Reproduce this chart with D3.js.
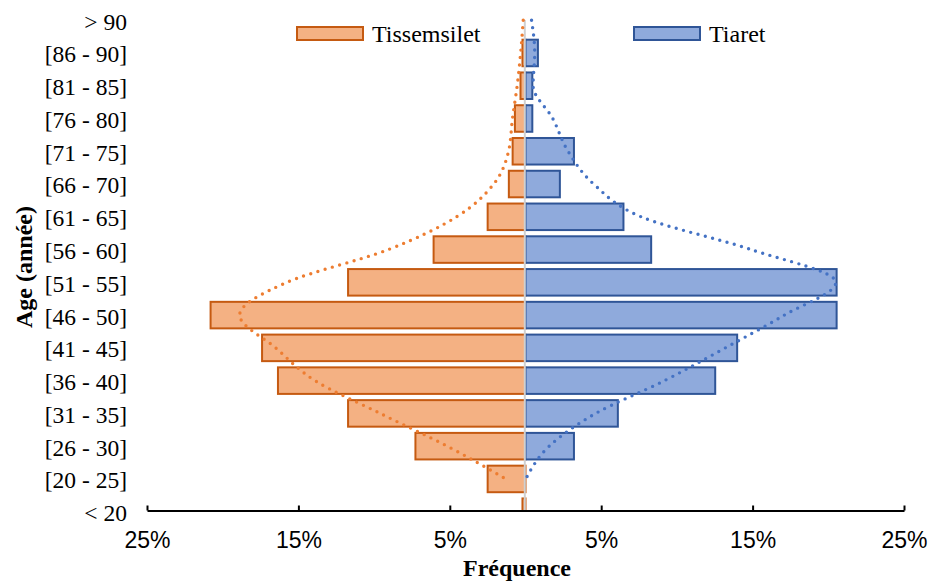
<!DOCTYPE html>
<html>
<head>
<meta charset="utf-8">
<script src="https://cdn.jsdelivr.net/npm/d3@7"></script>
<style>
  body { margin: 0; background: #fff; }
  svg { display: block; font-family: "Liberation Serif", "Times New Roman", serif; }
</style>
</head>
<body>
<div id="pyramid"></div>
<script>
  // age classes, top to bottom
  const ages = ["> 90", "[86 - 90]", "[81 - 85]", "[76 - 80]", "[71 - 75]", "[66 - 70]", "[61 - 65]", "[56 - 60]",
    "[51 - 55]", "[46 - 50]", "[41 - 45]", "[36 - 40]", "[31 - 35]", "[26 - 30]", "[20 - 25]", "< 20"]

  // frequencies in %
  const tissemsilet = [0, 0.2, 0.33, 0.7, 0.85, 1.1, 2.5, 6.07, 11.72, 20.8, 17.4, 16.35, 11.72, 7.27, 2.5, 0.2]
  const tiaret = [0, 0.82, 0.45, 0.45, 3.2, 2.27, 6.47, 8.3, 20.55, 20.55, 13.98, 12.53, 6.1, 3.2, 0, 0]

  // polynomial trend lines (> 90 down to [20 - 25])
  const tissemsiletTrend = [0.15, 0.32, 0.55, 0.86, 1.12, 2.1, 4.55, 9.06, 15.75, 18.88, 16.5, 13.9, 9.6, 5.17, 1.3]
  const tiaretTrend = [0.4, 0.61, 0.5, 1.8, 2.81, 4.5, 7.64, 14.9, 20.5, 17.1, 13.2, 9.18, 4.64, 1.57, 0.02]

  const xTicks = [-25, -15, -5, 5, 15, 25]
  const seriesNames = ["Tissemsilet", "Tiaret"]

  const width = 928
  const height = 585
  const axisY = 510.5

  const svg = d3.select("#pyramid")
    .append("svg")
    .attr("width", width)
    .attr("height", height)

  const x = d3.scaleLinear()
    .domain([-25, 25])
    .range([147, 904])

  const y = d3.scaleBand()
    .domain(ages)
    .range([0.7, 531.2])
    .padding(0.19)

  const yc = d => y(d) + y.bandwidth() / 2

  svg.append("clipPath")
      .attr("id", "plot-clip")
    .append("rect")
      .attr("x", 0)
      .attr("y", 0)
      .attr("width", width)
      .attr("height", axisY + 1)

  const bars = svg.append("g").attr("clip-path", "url(#plot-clip)")

  bars.selectAll("rect.left")
    .data(ages)
    .join("rect")
      .attr("class", "left")
      .attr("x", (d, i) => x(-tissemsilet[i]))
      .attr("y", d => y(d))
      .attr("width", (d, i) => x(0) - x(-tissemsilet[i]))
      .attr("height", y.bandwidth())
      .attr("fill", "#F4B183")
      .attr("stroke", "#C55A11")
      .attr("stroke-width", 2)
      .attr("display", (d, i) => tissemsilet[i] > 0 ? null : "none")

  bars.selectAll("rect.right")
    .data(ages)
    .join("rect")
      .attr("class", "right")
      .attr("x", x(0))
      .attr("y", d => y(d))
      .attr("width", (d, i) => x(tiaret[i]) - x(0))
      .attr("height", y.bandwidth())
      .attr("fill", "#8FAADC")
      .attr("stroke", "#2F5597")
      .attr("stroke-width", 2)
      .attr("display", (d, i) => tiaret[i] > 0 ? null : "none")

  // vertical category axis at zero
  svg.append("line")
    .attr("x1", x(0) - 0.7)
    .attr("x2", x(0) - 0.7)
    .attr("y1", 20)
    .attr("y2", axisY)
    .attr("stroke", "#d0d0d0")
    .attr("stroke-width", 2)

  // dotted trend lines
  const trend = d3.line()
    .x(d => x(d.v))
    .y(d => yc(d.age))
    .curve(d3.curveMonotoneY)

  svg.append("path")
    .attr("d", trend(tissemsiletTrend.map((v, i) => ({ age: ages[i], v: -v }))))
    .attr("fill", "none")
    .attr("stroke", "#ED7D31")
    .attr("stroke-width", 3.4)
    .attr("stroke-linecap", "round")
    .attr("stroke-dasharray", "0 7.5")

  svg.append("path")
    .attr("d", trend(tiaretTrend.map((v, i) => ({ age: ages[i], v: v }))))
    .attr("fill", "none")
    .attr("stroke", "#4472C4")
    .attr("stroke-width", 3.4)
    .attr("stroke-linecap", "round")
    .attr("stroke-dasharray", "0 7.5")

  // category labels
  svg.append("g")
      .attr("font-size", 23.5)
      .attr("text-anchor", "end")
    .selectAll("text")
    .data(ages)
    .join("text")
      .attr("x", 127)
      .attr("y", d => yc(d))
      .attr("dy", "0.4em")
      .text(d => d)

  // value axis
  const xAxis = svg.append("g")
    .attr("transform", `translate(0,${axisY})`)
    .call(d3.axisBottom(x)
      .tickValues(xTicks)
      .tickSizeInner(-5)
      .tickSizeOuter(0)
      .tickPadding(21)
      .tickFormat(d => Math.abs(d) + "%"))

  xAxis.select(".domain").attr("stroke", "#000").attr("stroke-width", 2)
  xAxis.selectAll(".tick line").attr("stroke", "#000").attr("stroke-width", 2)
  xAxis.selectAll(".tick text")
    .attr("font-family", null)
    .attr("font-size", 23)
    .attr("fill", "#000")

  svg.append("text")
    .attr("x", 517)
    .attr("y", 576)
    .attr("text-anchor", "middle")
    .attr("font-size", 24)
    .attr("font-weight", "bold")
    .text("Fréquence")

  svg.append("text")
    .attr("transform", "translate(32,267) rotate(-90)")
    .attr("text-anchor", "middle")
    .attr("font-size", 24)
    .attr("font-weight", "bold")
    .text("Age (année)")

  // legend
  const legend = svg.append("g")
    .selectAll("g")
    .data(seriesNames)
    .join("g")
      .attr("transform", (d, i) => `translate(${[297, 634][i]},27)`)

  legend.append("rect")
    .attr("width", 66)
    .attr("height", 13)
    .attr("fill", (d, i) => ["#F4B183", "#8FAADC"][i])
    .attr("stroke", (d, i) => ["#C55A11", "#2F5597"][i])
    .attr("stroke-width", 2)

  legend.append("text")
    .attr("x", 75)
    .attr("y", 15)
    .attr("font-size", 24)
    .text(d => d)
</script>
</body>
</html>
